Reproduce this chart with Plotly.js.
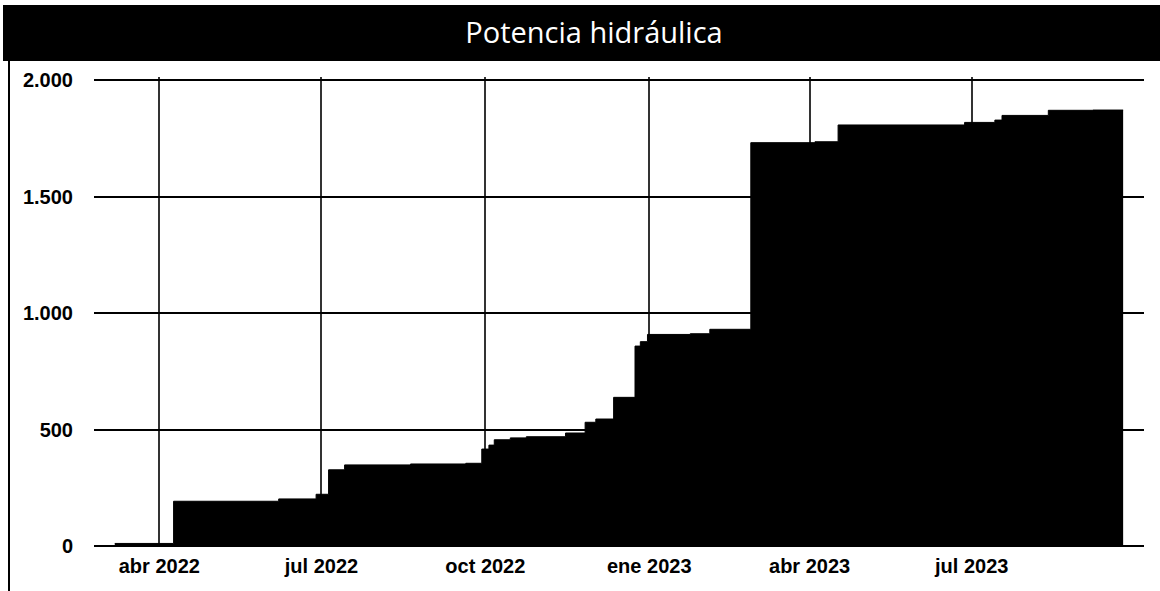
<!DOCTYPE html>
<html>
<head>
<meta charset="utf-8">
<script src="https://cdn.plot.ly/plotly-3.0.1.min.js"></script>
<style>html,body{margin:0;padding:0;background:#fff;}#chart{width:1160px;height:591px;}</style>
</head>
<body>
<div id="chart"></div>
<script>
const titleText = 'Potencia hidráulica';
const dates = ['2022-03-07','2022-04-09','2022-06-07','2022-06-28','2022-07-05','2022-07-14','2022-08-20','2022-09-20','2022-09-29','2022-10-03','2022-10-06','2022-10-15','2022-10-24','2022-11-15','2022-11-26','2022-12-02','2022-12-12','2022-12-24','2022-12-27','2022-12-31','2023-01-24','2023-02-04','2023-02-27','2023-04-04','2023-04-17','2023-06-27','2023-07-14','2023-07-18','2023-08-13','2023-09-07','2023-09-24'];
const potencia = [11,192,202,222,327,348,352,355,416,433,456,464,469,485,531,545,638,858,877,908,911,930,1731,1735,1807,1818,1828,1848,1870,1871,1871];
const xTickVals = ['2022-04-01','2022-07-01','2022-10-01','2023-01-01','2023-04-01','2023-07-01'];
const xTickText = ['abr 2022','jul 2022','oct 2022','ene 2023','abr 2023','jul 2023'];
const yTickVals = [0,500,1000,1500,2000];
const yTickText = ['0','500','1.000','1.500','2.000'];

const W = 1160, H = 591;
const mL = 94, mR = 16, mT = 77, mB = 45;
const pw = W - mL - mR, ph = H - mT - mB;
const px = x => (x - mL) / pw;
const py = y => (H - mB - y) / ph;

const trace = {
  x: dates, y: potencia, type: 'scatter', mode: 'lines',
  line: {shape: 'hv', color: '#000', width: 1},
  fill: 'tozeroy', fillcolor: '#000', hoverinfo: 'skip'
};
const tickFont = {family: '"Liberation Sans", Arial, sans-serif', size: 20, color: '#000', weight: 'bold'};
const layout = {
  width: W, height: H,
  margin: {l: mL, r: mR, t: mT, b: mB, pad: 0},
  paper_bgcolor: '#fff', plot_bgcolor: '#fff',
  showlegend: false,
  title: {
    text: titleText, xref: 'paper', x: px(594), xanchor: 'center',
    yref: 'container', y: 1 - 33/H, yanchor: 'middle',
    font: {family: '"Open Sans", sans-serif', size: 29, color: '#fff'}
  },
  xaxis: {
    type: 'date', range: ['2022-02-23 08:00', '2023-10-05 17:00'],
    tickvals: xTickVals, ticktext: xTickText, tickfont: tickFont,
    showgrid: true, gridcolor: '#333', gridwidth: 2,
    ticks: '', showline: false, zeroline: false, ticklabelstandoff: 6, fixedrange: true
  },
  yaxis: {
    range: [0, 2012.9], tickvals: yTickVals, ticktext: yTickText, tickfont: tickFont,
    showgrid: true, gridcolor: '#000', gridwidth: 2,
    zeroline: true, zerolinecolor: '#000', zerolinewidth: 2,
    ticks: '', showline: false, ticklabelstandoff: 20, fixedrange: true
  },
  shapes: [
    {type: 'rect', xref: 'paper', yref: 'paper', x0: px(3), x1: px(1160), y0: py(61), y1: py(5),
     fillcolor: '#000', line: {width: 0}, layer: 'below'},
    {type: 'line', xref: 'paper', yref: 'paper', x0: px(9), x1: px(9), y0: py(61), y1: py(591),
     line: {color: '#000', width: 2}}
  ]
};
Plotly.newPlot('chart', [trace], layout, {staticPlot: true, displayModeBar: false});
</script>
</body>
</html>
